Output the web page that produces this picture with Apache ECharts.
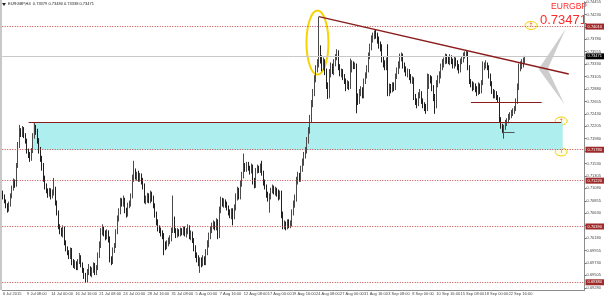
<!DOCTYPE html>
<html><head><meta charset="utf-8">
<script src="https://cdn.jsdelivr.net/npm/echarts@6/dist/echarts.min.js"></script>
<style>html,body{margin:0;padding:0;background:#fff}#c{width:604px;height:297px}</style>
</head><body><div id="c"></div>
<script>
// prices in pips (x 0.0001)
const PIP = 0.0001;
// [open, high, low, close] per H4 bar, starting 6 Jul 2015 16:00
const OHLC = [
[7099,7104,7088,7093],[7093,7097,7081,7084],[7084,7088,7072,7077],[7077,7081,7064,7070],[7070,7084,7066,7079],
[7079,7099,7075,7093],[7093,7113,7090,7108],[7108,7126,7104,7120],[7120,7124,7109,7115],[7115,7154,7111,7149],
[7149,7192,7145,7185],[7185,7223,7181,7212],[7212,7217,7201,7207],[7207,7221,7201,7216],[7216,7219,7199,7205],
[7205,7208,7189,7194],[7194,7198,7171,7176],[7176,7180,7163,7169],[7169,7174,7156,7162],[7162,7181,7158,7176],
[7176,7208,7172,7203],[7203,7228,7198,7217],[7217,7223,7205,7210],[7210,7216,7189,7194],[7194,7199,7171,7176],
[7176,7183,7156,7162],[7162,7167,7140,7149],[7149,7154,7120,7126],[7126,7131,7106,7111],[7111,7117,7099,7104],
[7104,7108,7091,7097],[7097,7109,7093,7104],[7104,7108,7088,7093],[7093,7106,7090,7100],[7100,7127,7095,7108],
[7108,7111,7077,7082],[7082,7086,7059,7064],[7064,7068,7034,7039],[7039,7043,7025,7032],[7032,7037,7021,7027],
[7027,7041,7019,7034],[7034,7039,7005,7010],[7010,7014,6994,7000],[7000,7003,6987,6992],[6992,6996,6980,6985],
[6985,7001,6980,6996],[6996,7000,6969,6974],[6974,6980,6964,6969],[6969,6978,6962,6973],[6973,6976,6960,6965],
[6965,6980,6960,6974],[6974,6991,6971,6982],[6982,6987,6965,6971],[6971,6974,6955,6960],[6960,6964,6944,6949],
[6949,6955,6937,6942],[6942,6962,6938,6956],[6956,6971,6951,6964],[6964,6967,6949,6955],[6955,6965,6947,6960],
[6960,6974,6955,6967],[6967,6973,6951,6956],[6956,6969,6951,6964],[6964,6992,6960,6987],[6987,7012,6982,7005],
[7005,7036,7000,7028],[7028,7043,7023,7036],[7036,7039,7021,7027],[7027,7032,7014,7021],[7021,7034,7016,7028],
[7028,7032,7010,7018],[7018,7021,6974,6982],[6982,6985,6969,6974],[6974,7001,6971,6996],[6996,7009,6991,7003],
[7003,7034,7000,7028],[7028,7059,7025,7054],[7054,7072,7048,7064],[7064,7091,7061,7084],[7084,7090,7075,7081],
[7081,7095,7075,7088],[7088,7091,7063,7068],[7068,7073,7055,7061],[7061,7082,7057,7077],[7077,7086,7072,7081],
[7081,7099,7075,7093],[7093,7133,7090,7126],[7126,7158,7120,7136],[7136,7144,7124,7129],[7129,7138,7122,7133],
[7133,7140,7120,7126],[7126,7136,7120,7131],[7131,7135,7115,7122],[7122,7127,7106,7111],[7111,7117,7081,7086],
[7086,7095,7079,7090],[7090,7100,7082,7093],[7093,7099,7081,7086],[7086,7104,7081,7097],[7097,7102,7084,7090],
[7090,7095,7072,7077],[7077,7081,7055,7061],[7061,7066,7041,7046],[7046,7052,7030,7036],[7036,7041,7027,7032],
[7032,7037,7021,7027],[7027,7032,7016,7021],[7021,7027,6987,7007],[7007,7012,6996,7003],[7003,7014,6998,7009],
[7009,7019,7003,7014],[7014,7023,7007,7018],[7018,7037,7012,7032],[7032,7095,7027,7050],[7050,7057,7027,7032],
[7032,7036,7018,7025],[7025,7036,7019,7030],[7030,7034,7021,7027],[7027,7037,7021,7032],[7032,7036,7023,7028],
[7028,7039,7023,7034],[7034,7039,7021,7027],[7027,7036,7019,7030],[7030,7043,7025,7036],[7036,7041,7016,7021],
[7021,7032,7014,7027],[7027,7030,7009,7014],[7014,7018,6994,7000],[7000,7005,6982,6987],[6987,6992,6974,6982],
[6982,6987,6967,6974],[6974,6983,6955,6978],[6978,6983,6965,6973],[6973,6987,6967,6982],[6982,6985,6969,6974],
[6974,6998,6969,6992],[6992,7014,6987,7007],[7007,7028,7001,7021],[7021,7039,7016,7032],[7032,7046,7027,7039],
[7039,7050,7034,7043],[7043,7048,7032,7037],[7037,7054,7032,7046],[7046,7052,7016,7021],[7021,7075,7018,7068],
[7068,7093,7063,7086],[7086,7091,7075,7081],[7081,7090,7073,7084],[7084,7088,7073,7079],[7079,7084,7068,7073],
[7073,7077,7059,7064],[7064,7070,7054,7059],[7059,7072,7052,7066],[7066,7072,7041,7057],[7057,7079,7052,7073],
[7073,7099,7068,7091],[7091,7111,7086,7104],[7104,7109,7088,7093],[7093,7122,7088,7117],[7117,7138,7111,7131],
[7131,7171,7126,7149],[7149,7154,7138,7144],[7144,7156,7138,7151],[7151,7156,7140,7145],[7145,7149,7133,7140],
[7140,7153,7135,7147],[7147,7151,7115,7122],[7122,7127,7108,7115],[7115,7145,7109,7140],[7140,7151,7135,7145],
[7145,7149,7136,7142],[7142,7153,7136,7147],[7147,7158,7131,7136],[7136,7140,7113,7118],[7118,7124,7106,7111],
[7111,7115,7091,7097],[7097,7102,7084,7090],[7090,7099,7064,7093],[7093,7109,7088,7104],[7104,7115,7099,7108],
[7108,7113,7097,7102],[7102,7111,7095,7106],[7106,7109,7093,7100],[7100,7106,7086,7093],[7093,7104,7088,7099],
[7099,7104,7054,7061],[7061,7066,7034,7041],[7041,7050,7034,7043],[7043,7048,7032,7039],[7039,7052,7034,7046],
[7046,7052,7036,7041],[7041,7050,7036,7045],[7045,7070,7039,7064],[7064,7086,7059,7079],[7079,7097,7073,7090],
[7090,7129,7084,7122],[7122,7138,7115,7131],[7131,7136,7120,7126],[7126,7149,7120,7144],[7144,7162,7138,7154],
[7154,7174,7149,7167],[7167,7183,7162,7176],[7176,7201,7171,7194],[7194,7219,7189,7212],[7212,7241,7207,7234],
[7234,7268,7228,7261],[7261,7288,7255,7280],[7280,7313,7275,7306],[7306,7331,7300,7324],[7324,7342,7318,7334],
[7334,7419,7327,7360],[7360,7367,7334,7342],[7342,7349,7320,7327],[7327,7345,7322,7338],[7338,7342,7313,7320],
[7320,7325,7288,7295],[7295,7300,7270,7275],[7275,7324,7271,7316],[7316,7336,7309,7329],[7329,7334,7315,7320],
[7320,7342,7313,7334],[7334,7351,7329,7345],[7345,7360,7340,7352],[7352,7358,7322,7327],[7327,7333,7311,7316],
[7316,7325,7309,7320],[7320,7324,7304,7309],[7309,7315,7297,7302],[7302,7307,7284,7293],[7293,7304,7288,7298],
[7298,7302,7286,7291],[7291,7343,7288,7324],[7324,7340,7318,7334],[7334,7338,7324,7329],[7329,7336,7324,7331],
[7331,7334,7244,7275],[7275,7280,7259,7266],[7266,7288,7261,7280],[7280,7293,7275,7288],[7288,7291,7271,7277],
[7277,7307,7271,7302],[7302,7318,7297,7313],[7313,7331,7307,7324],[7324,7354,7318,7347],[7347,7370,7342,7363],
[7363,7385,7358,7378],[7378,7390,7372,7383],[7383,7394,7378,7388],[7388,7396,7379,7385],[7385,7390,7370,7378],
[7378,7383,7361,7367],[7367,7374,7356,7363],[7363,7369,7336,7342],[7342,7347,7327,7334],[7334,7340,7322,7327],
[7327,7345,7322,7338],[7338,7369,7275,7280],[7280,7298,7275,7291],[7291,7297,7280,7288],[7288,7300,7282,7295],
[7295,7300,7284,7291],[7291,7316,7286,7311],[7311,7327,7306,7320],[7320,7338,7315,7331],[7331,7352,7325,7345],
[7345,7354,7338,7349],[7349,7352,7325,7331],[7331,7336,7318,7324],[7324,7329,7311,7316],[7316,7325,7309,7320],
[7320,7324,7304,7309],[7309,7315,7298,7304],[7304,7311,7297,7306],[7306,7309,7268,7273],[7273,7279,7259,7266],
[7266,7271,7253,7262],[7262,7282,7257,7277],[7277,7288,7271,7280],[7280,7284,7261,7266],[7266,7271,7253,7259],
[7259,7264,7248,7255],[7255,7261,7243,7252],[7252,7316,7248,7295],[7295,7315,7288,7309],[7309,7313,7298,7306],
[7306,7311,7284,7291],[7291,7295,7266,7273],[7273,7279,7243,7259],[7259,7304,7253,7298],[7298,7313,7291,7306],
[7306,7320,7298,7313],[7313,7334,7307,7327],[7327,7342,7322,7334],[7334,7345,7327,7338],[7338,7352,7333,7347],
[7347,7351,7334,7342],[7342,7347,7333,7338],[7338,7351,7331,7345],[7345,7349,7333,7338],[7338,7343,7325,7331],
[7331,7347,7325,7342],[7342,7345,7329,7334],[7334,7340,7322,7327],[7327,7333,7316,7322],[7322,7343,7318,7338],
[7338,7347,7333,7342],[7342,7354,7336,7349],[7349,7356,7343,7352],[7352,7358,7347,7354],[7354,7356,7322,7327],
[7327,7331,7297,7302],[7302,7306,7291,7298],[7298,7302,7284,7291],[7291,7300,7286,7295],[7295,7298,7282,7288],
[7288,7293,7275,7280],[7280,7300,7277,7295],[7295,7298,7279,7284],[7284,7304,7280,7298],[7298,7338,7295,7327],
[7327,7336,7322,7331],[7331,7340,7325,7334],[7334,7336,7322,7327],[7327,7331,7307,7313],[7313,7316,7293,7298],
[7298,7302,7279,7284],[7284,7288,7271,7277],[7277,7286,7271,7280],[7280,7284,7268,7273],[7273,7277,7264,7270],
[7270,7273,7228,7234],[7234,7237,7216,7221],[7221,7225,7208,7216],[7216,7223,7198,7219],[7219,7232,7214,7226],
[7226,7235,7221,7230],[7230,7243,7226,7237],[7237,7246,7232,7241],[7241,7250,7235,7244],[7244,7253,7239,7248],
[7248,7257,7243,7252],[7252,7271,7248,7266],[7266,7298,7261,7291],[7291,7334,7286,7327],[7327,7338,7320,7331],
[7331,7342,7324,7334],[7334,7345,7327,7338],[7337.9,7348.0,7333.8,7347.1]
];
const X_LABELS = ["6 Jul 2015","9 Jul 08:00","14 Jul 00:00","16 Jul 16:00","21 Jul 08:00","24 Jul 00:00",
"28 Jul 16:00","31 Jul 08:00","5 Aug 00:00","7 Aug 16:00","12 Aug 08:00","17 Aug 00:00","19 Aug 16:00",
"24 Aug 08:00","27 Aug 00:00","31 Aug 16:00","3 Sep 08:00","8 Sep 00:00","10 Sep 16:00","15 Sep 08:00",
"18 Sep 00:00","22 Sep 16:00"];
const Y_TICKS = [0.69280,0.69505,0.69730,0.69955,0.70180,0.70405,0.70630,0.70855,0.71080,0.71305,0.71530,
0.71755,0.71980,0.72205,0.72430,0.72655,0.72880,0.73105,0.73330,0.73555,0.73780,0.74005,0.74230,0.74455];
const LEVELS = [0.74010, 0.71780, 0.71220, 0.70390, 0.69380];
const LAST_PRICE = 0.73471;
const ZONE_PRICES = [0.7228, 0.7178];
const ZONE_BARS = [20, 372];
const TREND_BARS = [210, 376];
const TREND_PRICES = [0.7419, 0.7315];
const SHORT_LINE = [311, 358, 0.7264];
const TINY_LINE = [332, 340, 0.7209];
const Y_MIN = 0.6924, Y_MAX = 0.7446;
const N_SLOTS = 387;
const TITLE = "EURGBP,H4  0.73379 0.73480 0.73338 0.73471";

// time categories (H4, no weekend bars)
const MON = ['Jan','Feb','Mar','Apr','May','Jun','Jul','Aug','Sep','Oct','Nov','Dec'];
const cats = [];
let t = Date.UTC(2015, 6, 6, 16);
for (let k = 0; k < N_SLOTS; k++) {
  const d = new Date(t);
  cats.push(d.getUTCDate() + ' ' + MON[d.getUTCMonth()] + ' ' + String(d.getUTCHours()).padStart(2,'0') + ':00');
  t += 4 * 3600e3;
  if (new Date(t).getUTCDay() === 6) t += 48 * 3600e3;
}
const candles = OHLC.map(r => [r[0]*PIP, r[3]*PIP, r[2]*PIP, r[1]*PIP]);

const FONT = 'Liberation Sans';
const chart = echarts.init(document.getElementById('c'));
const lbl = (bg) => ({show: true, position: 'end', distance: 1, formatter: p => Number(p.value).toFixed(5),
    backgroundColor: bg, color: '#fff', fontSize: 4, padding: [1, 2], fontFamily: FONT});
const levelLines = LEVELS.map(v => ({
  yAxis: v,
  lineStyle: {color: '#c04848', type: [1, 1.5], width: 1},
  label: lbl('#9e2a2a')
}));
const option = {
  animation: false,
  grid: {left: 2, right: 17, top: 0, bottom: 7},
  xAxis: {
    type: 'category', data: cats, boundaryGap: true,
    axisLine: {lineStyle: {color: '#8c8c8c', width: 1}},
    axisTick: {interval: 15, alignWithLabel: true, length: 2, lineStyle: {color: '#777'}},
    axisLabel: {interval: 15, align: 'left', margin: 2, fontSize: 4, color: '#444', fontFamily: FONT,
      formatter: (v, i) => X_LABELS[i / 16] || ''},
    splitLine: {show: false}
  },
  yAxis: {
    type: 'value', position: 'right', min: Y_MIN, max: Y_MAX,
    axisLine: {show: true, lineStyle: {color: '#8c8c8c'}},
    axisTick: {show: true, length: 2, customValues: Y_TICKS, lineStyle: {color: '#777'}},
    axisLabel: {customValues: Y_TICKS, formatter: v => v.toFixed(5), fontSize: 4, color: '#444', margin: 2, fontFamily: FONT},
    splitLine: {show: false}
  },
  series: [{
    type: 'line', data: [], silent: true, z: 1,
    markLine: {
      silent: true, symbol: ['none', 'none'], animation: false, precision: 5,
      data: levelLines.concat([
        {yAxis: LAST_PRICE, lineStyle: {color: '#c8c8c8', type: 'solid', width: 1}, label: lbl('#000')}
      ])
    }
  }, {
    type: 'candlestick', data: candles, barWidth: 1, z: 3,
    itemStyle: {color: '#a0a0a0', color0: '#202020', borderColor: '#4a4a4a', borderColor0: '#202020', borderWidth: 1},
    markArea: {
      silent: true,
      itemStyle: {color: '#afeeee'},
      data: [[{coord: [ZONE_BARS[0], ZONE_PRICES[0]]}, {coord: [ZONE_BARS[1], ZONE_PRICES[1]]}]]
    },
    markLine: {
      silent: true, symbol: ['none', 'none'], animation: false, precision: 5,
      data: [
        [{coord: [TREND_BARS[0], TREND_PRICES[0]], lineStyle: {color: '#8b1c1c', width: 1.5, type: 'solid'}, label: {show: false}},
         {coord: [TREND_BARS[1], TREND_PRICES[1]]}],
        [{coord: [17, ZONE_PRICES[0]], lineStyle: {color: '#8b1c1c', width: 1.2, type: 'solid'}, label: {show: false}},
         {coord: [371, ZONE_PRICES[0]]}],
        [{coord: [SHORT_LINE[0], SHORT_LINE[2]], lineStyle: {color: '#8b1c1c', width: 1.2, type: 'solid'}, label: {show: false}},
         {coord: [SHORT_LINE[1], SHORT_LINE[2]]}],
        [{coord: [TINY_LINE[0], TINY_LINE[2]], lineStyle: {color: '#555', width: 1, type: 'solid'}, label: {show: false}},
         {coord: [TINY_LINE[1], TINY_LINE[2]]}]
      ]
    }
  }]
};
chart.setOption(option);

const px = (i, p) => chart.convertToPixel({seriesIndex: 1}, [i, p]);
const g = [];
// left frame
g.push({type: 'line', shape: {x1: 1, y1: 0, x2: 1, y2: 290}, style: {stroke: '#c8c8c8', lineWidth: 2}, silent: true});
// title
g.push({type: 'polygon', shape: {points: [[2, 3], [6, 3], [4, 6]]}, style: {fill: '#222'}});
g.push({type: 'text', x: 8, y: 2, style: {text: TITLE, fontSize: 4, fill: '#222', fontFamily: FONT}});
// spike ellipse
const e0 = px(209, 0.7372);
g.push({type: 'ellipse', shape: {cx: e0[0], cy: e0[1], rx: 11, ry: 32}, style: {fill: 'none', stroke: '#f5d400', lineWidth: 2}});
// small markers
[[351, 0.7403], [371, 0.7230], [371, 0.7174]].forEach(m => {
  const q = px(m[0], m[1]);
  g.push({type: 'ellipse', shape: {cx: q[0], cy: q[1], rx: 6, ry: 4}, style: {fill: '#fffbe6', stroke: '#f0d000', lineWidth: 1}});
  g.push({type: 'text', x: q[0], y: q[1], style: {text: '↑', fontSize: 6, fill: '#e06060', align: 'center', verticalAlign: 'middle', fontFamily: 'DejaVu Sans'}});
});
// chevron
const c1 = px(373.6, 0.7397), c2 = px(356.1, 0.7324), c3 = px(373, 0.7261), c4 = px(361.9, 0.7324);
g.push({type: 'polygon', shape: {points: [c1, c2, c3, c4]}, style: {fill: '#cdcdcd'}});
// watermark text
const w = px(235, 0.7201);
g.push({type: 'text', x: w[0], y: w[1], style: {text: '@50Pips | www.50PipsFX.com', fontSize: 7.5, fill: '#8b1c1c', verticalAlign: 'middle', fontFamily: FONT}});
// symbol + price
g.push({type: 'text', x: 587, y: 2, style: {text: 'EURGBP', fontSize: 8.5, fill: '#ff2a2a', align: 'right', verticalAlign: 'top', fontFamily: FONT}});
g.push({type: 'text', x: 587, y: 14, style: {text: LAST_PRICE.toFixed(5), fontSize: 13, fill: '#ff2a2a', align: 'right', verticalAlign: 'top', fontFamily: FONT}});
chart.setOption({graphic: g});
</script></body></html>
